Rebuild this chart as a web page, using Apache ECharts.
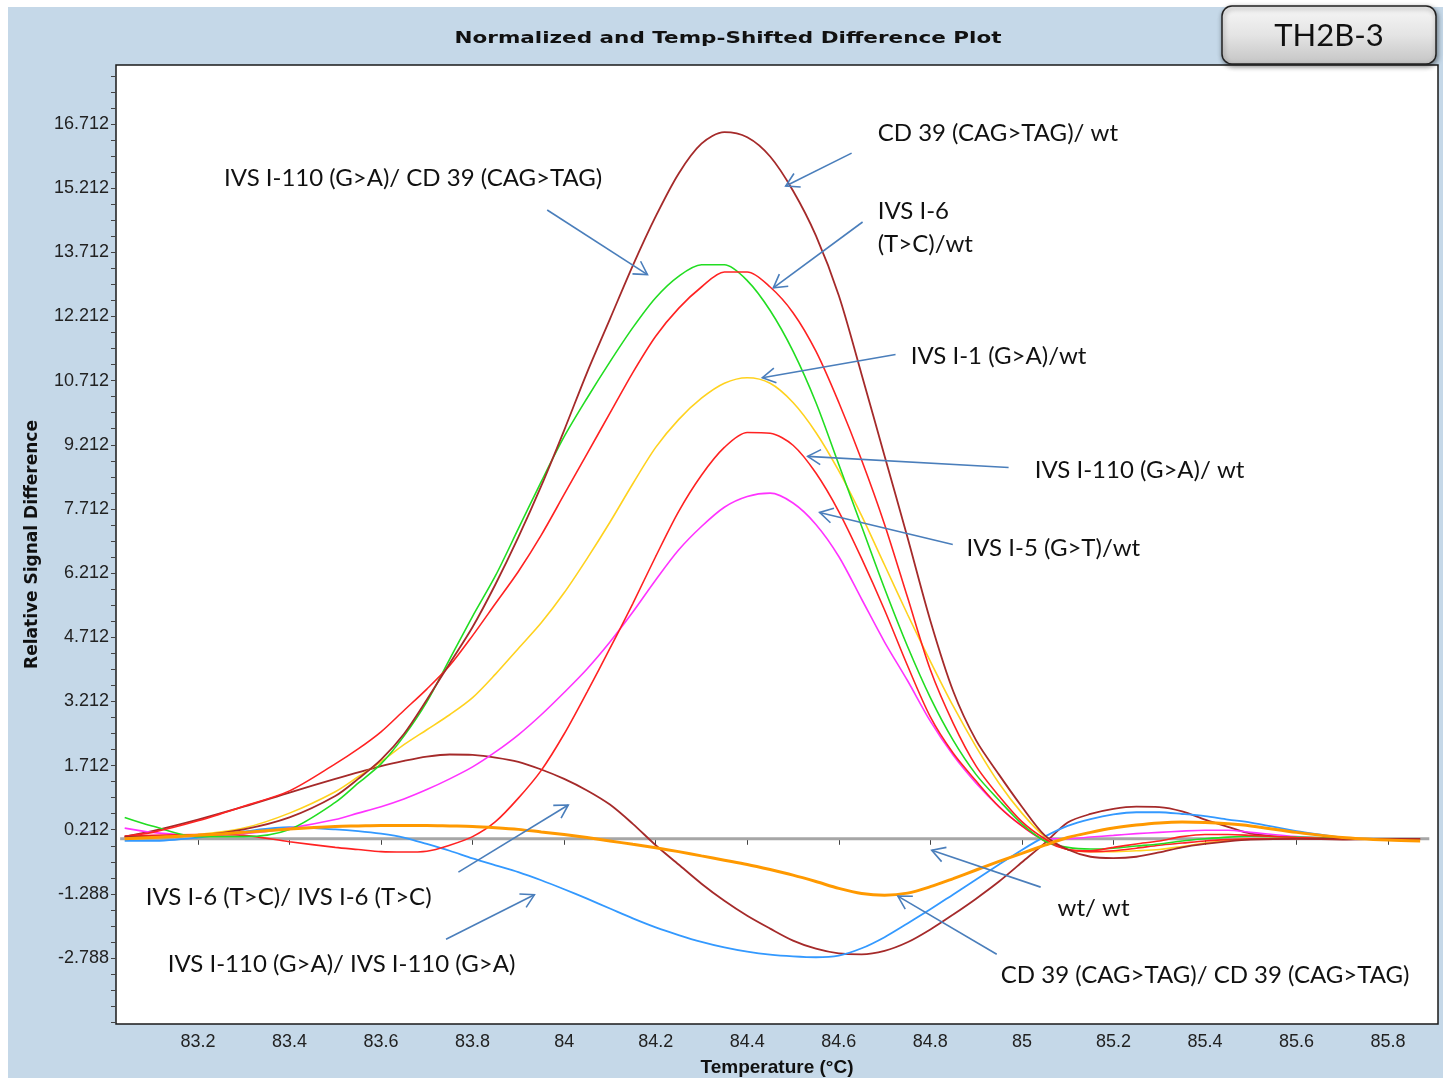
<!DOCTYPE html>
<html>
<head>
<meta charset="utf-8">
<script src="https://cdn.jsdelivr.net/npm/echarts@6/dist/echarts.min.js"></script>
<style>
html,body{margin:0;padding:0;background:#ffffff;}
#chart{width:1448px;height:1078px;}
</style>
</head>
<body>
<div id="chart"></div>
<script>
// ---------------- DATA ----------------
const temps = [83.04, 83.1, 83.2, 83.3, 83.4, 83.5, 83.55, 83.6, 83.65, 83.7,
  83.75, 83.8, 83.85, 83.9, 83.95, 84.0, 84.05, 84.1, 84.15, 84.2,
  84.25, 84.3, 84.35, 84.4, 84.45, 84.5, 84.55, 84.6, 84.65, 84.7,
  84.75, 84.8, 84.85, 84.9, 84.95, 85.0, 85.05, 85.1, 85.15, 85.2,
  85.25, 85.3, 85.35, 85.4, 85.45, 85.5, 85.6, 85.7, 85.8, 85.87];

// CD 39 (CAG>TAG)/ wt  (dark red, tallest)
const cd39Wt = [0.05, 0.05, 0.08, 0.22, 0.5, 1.0, 1.4, 1.85, 2.45, 3.25,
  4.1, 4.95, 5.95, 7.05, 8.25, 9.55, 10.9, 12.15, 13.4, 14.55,
  15.55, 16.25, 16.52, 16.4, 15.95, 15.15, 14.1, 12.7, 10.85, 8.95,
  7.05, 5.1, 3.45, 2.3, 1.5, 0.75, 0.08, -0.25, -0.42, -0.45,
  -0.42, -0.32, -0.2, -0.12, -0.06, -0.02, 0.0, 0.0, 0.0, 0.0];

// IVS I-110 (G>A)/ CD 39 (CAG>TAG)  (green)
const ivs110Cd39 = [0.5, 0.3, 0.05, 0.05, 0.22, 0.85, 1.3, 1.75, 2.4, 3.2,
  4.2, 5.2, 6.15, 7.25, 8.35, 9.4, 10.3, 11.15, 11.95, 12.65,
  13.15, 13.42, 13.42, 13.05, 12.35, 11.4, 10.2, 8.75, 7.3, 5.85,
  4.5, 3.3, 2.3, 1.5, 0.9, 0.35, -0.05, -0.2, -0.24, -0.22,
  -0.17, -0.12, -0.05, 0.0, 0.04, 0.06, 0.04, 0.02, null, null];

// IVS I-6 (T>C)/wt  (red)
const ivs6Wt = [0.06, 0.15, 0.42, 0.76, 1.12, 1.75, 2.1, 2.5, 3.0, 3.5,
  4.05, 4.75, 5.5, 6.25, 7.1, 8.05, 9.0, 9.95, 10.9, 11.75,
  12.4, 12.9, 13.25, 13.25, 12.9, 12.3, 11.4, 10.2, 8.85, 7.35,
  5.65, 3.95, 2.7, 1.7, 1.0, 0.4, 0.0, -0.25, -0.28, -0.2,
  -0.12, -0.05, 0.05, 0.1, 0.1, 0.08, 0.03, 0.0, null, null];

// IVS I-1 (G>A)/wt  (yellow)
const ivs1Wt = [0.0, 0.02, 0.1, 0.25, 0.6, 1.1, 1.45, 1.8, 2.2, 2.55,
  2.9, 3.3, 3.85, 4.45, 5.05, 5.75, 6.55, 7.4, 8.3, 9.15,
  9.8, 10.3, 10.65, 10.78, 10.65, 10.2, 9.5, 8.6, 7.55, 6.4,
  5.25, 4.15, 3.1, 2.15, 1.3, 0.6, 0.05, -0.25, -0.3, -0.3,
  -0.28, -0.25, -0.18, -0.1, -0.04, 0.0, 0.02, 0.0, null, null];

// IVS I-110 (G>A)/ wt  (red, second)
const ivs110Wt = [0.05, 0.08, 0.1, 0.08, -0.07, -0.2, -0.25, -0.3, -0.31, -0.29,
  -0.15, 0.05, 0.4, 0.95, 1.6, 2.45, 3.43, 4.45, 5.5, 6.6,
  7.65, 8.5, 9.15, 9.5, 9.48, 9.2, 8.55, 7.65, 6.55, 5.35,
  4.05, 2.85, 2.0, 1.35, 0.75, 0.3, -0.05, -0.25, -0.3, -0.28,
  -0.22, -0.15, -0.1, -0.05, -0.02, 0.0, 0.0, 0.0, null, null];

// IVS I-5 (G>T)/wt  (magenta)
const ivs5Wt = [0.25, 0.15, 0.08, 0.12, 0.25, 0.45, 0.6, 0.75, 0.93, 1.15,
  1.4, 1.68, 2.03, 2.43, 2.9, 3.42, 3.97, 4.6, 5.3, 6.05,
  6.75, 7.3, 7.75, 8.0, 8.08, 7.85, 7.35, 6.6, 5.6, 4.6,
  3.7, 2.75, 1.95, 1.3, 0.75, 0.3, 0.0, 0.0, 0.04, 0.08,
  0.12, 0.15, 0.18, 0.2, 0.2, 0.15, 0.05, 0.0, null, null];

// IVS I-6 (T>C)/ IVS I-6 (T>C)  (dark red, hump then dip)
const ivs6Ivs6 = [0.05, 0.18, 0.45, 0.75, 1.08, 1.4, 1.55, 1.7, 1.82, 1.92,
  1.97, 1.96, 1.9, 1.8, 1.62, 1.4, 1.13, 0.8, 0.35, -0.15,
  -0.6, -1.05, -1.45, -1.8, -2.1, -2.38, -2.57, -2.68, -2.7, -2.62,
  -2.42, -2.12, -1.77, -1.4, -1.0, -0.55, -0.1, 0.38, 0.58, 0.7,
  0.75, 0.74, 0.64, 0.45, 0.28, 0.12, 0.02, -0.02, 0.0, 0.0];

// IVS I-110 (G>A)/ IVS I-110 (G>A)  (blue)
const ivs110Ivs110 = [-0.05, -0.05, 0.03, 0.17, 0.27, 0.22, 0.18, 0.12, 0.03, -0.12,
  -0.28, -0.46, -0.62, -0.78, -0.97, -1.18, -1.4, -1.63, -1.86, -2.07,
  -2.25, -2.41, -2.54, -2.64, -2.71, -2.75, -2.77, -2.73, -2.56, -2.3,
  -1.98, -1.65, -1.3, -0.95, -0.6, -0.26, 0.05, 0.3, 0.46, 0.57,
  0.62, 0.62, 0.58, 0.53, 0.45, 0.38, 0.18, 0.03, null, null];

// CD 39 (CAG>TAG)/ CD 39 (CAG>TAG)  (orange)
const cd39Cd39 = [0.0, 0.03, 0.08, 0.15, 0.23, 0.29, 0.3, 0.31, 0.31, 0.31,
  0.3, 0.29, 0.26, 0.22, 0.16, 0.1, 0.03, -0.05, -0.13, -0.21,
  -0.3, -0.4, -0.5, -0.6, -0.72, -0.85, -1.0, -1.16, -1.28, -1.32,
  -1.27, -1.12, -0.93, -0.73, -0.53, -0.34, -0.15, 0.03, 0.15, 0.25,
  0.32, 0.37, 0.39, 0.38, 0.35, 0.3, 0.15, 0.03, -0.03, -0.05];

// wt/ wt  (grey baseline)
const wtTemps = [83.03, 85.89];
const wtWt = [0.0, 0.0];

// Axis tick labels
const yTickLabels = [-2.788, -1.288, 0.212, 1.712, 3.212, 4.712, 6.212, 7.712,
  9.212, 10.712, 12.212, 13.712, 15.212, 16.712];
const xTickLabels = [83.2, 83.4, 83.6, 83.8, 84.0, 84.2, 84.4, 84.6, 84.8,
  85.0, 85.2, 85.4, 85.6, 85.8];

// Annotations (data coordinates: text anchor, arrow start, arrow tip)
const annotations = [
  {lines: ['CD 39 (CAG>TAG)/ wt'], at: [84.685, 16.5], from: [84.628, 16.03], to: [84.484, 15.26]},
  {lines: ['IVS I-110 (G>A)/ CD 39 (CAG>TAG)'], at: [83.257, 15.45], from: [83.963, 14.70], to: [84.182, 13.19]},
  {lines: ['IVS I-6', '(T>C)/wt'], at: [84.685, 14.66], from: [84.652, 14.42], to: [84.457, 12.88]},
  {lines: ['IVS I-1 (G>A)/wt'], at: [84.757, 11.27], from: [84.724, 11.32], to: [84.433, 10.78]},
  {lines: ['IVS I-110 (G>A)/ wt'], at: [85.028, 8.61], from: [84.971, 8.68], to: [84.532, 8.94]},
  {lines: ['IVS I-5 (G>T)/wt'], at: [84.879, 6.79], from: [84.849, 6.88], to: [84.558, 7.63]},
  {lines: ['IVS I-6 (T>C)/ IVS I-6 (T>C)'], at: [83.086, -1.36], from: [83.769, -0.78], to: [84.009, 0.79]},
  {lines: ['IVS I-110 (G>A)/ IVS I-110 (G>A)'], at: [83.134, -2.93], from: [83.742, -2.35], to: [83.935, -1.31]},
  {lines: ['wt/ wt'], at: [85.078, -1.62], from: [85.041, -1.13], to: [84.803, -0.27]},
  {lines: ['CD 39 (CAG>TAG)/ CD 39 (CAG>TAG)'], at: [84.954, -3.19], from: [84.945, -2.70], to: [84.729, -1.34]}
];

// ---------------- CHART ----------------
const X_MIN = 83.021, X_MAX = 85.909, Y_MIN = -4.33, Y_MAX = 18.09;
const sans = "'Liberation Sans', Arial, sans-serif";

function pairs(xs, ys) { return xs.map((x, i) => [x, ys[i]]); }

// minor + major y ticks (every quarter of the 1.5 step)
const yTicks = [];
for (let k = -8; k <= 60; k++) {
  const v = +(yTickLabels[0] + k * 0.375).toFixed(3);
  if (v > Y_MIN && v < Y_MAX) yTicks.push(v);
}

const seriesDefs = [
  {name: 'wt/ wt', x: wtTemps, y: wtWt, color: '#a6a6a6', width: 3},
  {name: 'IVS I-6 (T>C)/ IVS I-6 (T>C)', x: temps, y: ivs6Ivs6, color: '#a52a2a', width: 1.8},
  {name: 'IVS I-110 (G>A)/ IVS I-110 (G>A)', x: temps, y: ivs110Ivs110, color: '#3399ff', width: 1.8},
  {name: 'IVS I-5 (G>T)/wt', x: temps, y: ivs5Wt, color: '#ff33ff', width: 1.6},
  {name: 'IVS I-1 (G>A)/wt', x: temps, y: ivs1Wt, color: '#ffd21f', width: 1.6},
  {name: 'IVS I-110 (G>A)/ wt', x: temps, y: ivs110Wt, color: '#ff2222', width: 1.6},
  {name: 'IVS I-110 (G>A)/ CD 39 (CAG>TAG)', x: temps, y: ivs110Cd39, color: '#22dd22', width: 1.6},
  {name: 'IVS I-6 (T>C)/wt', x: temps, y: ivs6Wt, color: '#ff2222', width: 1.6},
  {name: 'CD 39 (CAG>TAG)/ wt', x: temps, y: cd39Wt, color: '#a52a2a', width: 1.8},
  {name: 'CD 39 (CAG>TAG)/ CD 39 (CAG>TAG)', x: temps, y: cd39Cd39, color: '#ff9900', width: 3}
];

const chart = echarts.init(document.getElementById('chart'), null, {renderer: 'canvas'});

chart.setOption({
  animation: false,
  backgroundColor: '#c5d8e8',
  grid: {
    left: 116, right: 10, top: 65, bottom: 54,
    outerBoundsMode: 'none', containLabel: false,
    show: true, backgroundColor: '#ffffff', borderColor: '#1a1a1a', borderWidth: 1.5
  },
  xAxis: {
    type: 'value', min: X_MIN, max: X_MAX,
    axisLine: {show: false},
    axisTick: {show: true, customValues: xTickLabels, length: 6, lineStyle: {color: '#444'}},
    axisLabel: {
      customValues: xTickLabels, margin: 9, fontSize: 18, color: '#222', fontFamily: sans,
      formatter: v => String(+(+v).toFixed(1))
    },
    splitLine: {show: false},
    name: 'Temperature (°C)', nameLocation: 'middle', nameGap: 34,
    nameTextStyle: {fontWeight: 'bold', fontSize: 19, color: '#111', fontFamily: sans}
  },
  yAxis: {
    type: 'value', min: Y_MIN, max: Y_MAX,
    axisLine: {show: false},
    axisTick: {show: true, customValues: yTicks, length: 5, lineStyle: {color: '#444'}},
    axisLabel: {
      customValues: yTickLabels, margin: 7, fontSize: 18, color: '#222', fontFamily: sans,
      formatter: v => (+v).toFixed(3)
    },
    splitLine: {show: false},
    name: 'Relative Signal Difference', nameLocation: 'middle', nameGap: 75,
    nameTextStyle: {fontWeight: 'bold', fontSize: 17, color: '#111', fontFamily: "'DejaVu Sans', Arial, sans-serif"}
  },
  series: seriesDefs.map(s => ({
    type: 'line', name: s.name, data: pairs(s.x, s.y),
    showSymbol: false, smooth: 0.3, connectNulls: false,
    lineStyle: {color: s.color, width: s.width},
    itemStyle: {color: s.color},
    emphasis: {disabled: true}, silent: true
  }))
});

function measure(text, font) {
  const ctx = document.createElement('canvas').getContext('2d');
  ctx.font = font;
  return ctx.measureText(text).width;
}

function buildGraphics() {
  const g = [];
  // white page margins
  g.push({type: 'rect', shape: {x: 0, y: 0, width: 1448, height: 7}, style: {fill: '#ffffff'}, silent: true, z: -10});
  g.push({type: 'rect', shape: {x: 0, y: 0, width: 8, height: 1078}, style: {fill: '#ffffff'}, silent: true, z: -10});
  g.push({type: 'rect', shape: {x: 1443, y: 0, width: 5, height: 1078}, style: {fill: '#ffffff'}, silent: true, z: -10});
  // title (stretched horizontally like the original wide-spaced caption)
  const titleText = 'Normalized and Temp-Shifted Difference Plot';
  const titleFont = "bold 15px 'DejaVu Sans', Arial, sans-serif";
  const tw = measure(titleText, titleFont) || 440;
  g.push({
    type: 'text', x: 728, y: 39, silent: true, scaleX: 547 / tw, originX: 0, originY: 0,
    style: {text: titleText, fill: '#111', font: titleFont, align: 'center', verticalAlign: 'middle'}
  });
  // TH2B-3 button
  g.push({
    type: 'rect', shape: {x: 1222, y: 6, width: 214, height: 58, r: 10}, silent: true, z: 5,
    style: {
      fill: new echarts.graphic.LinearGradient(0, 0, 0, 1, [
        {offset: 0, color: '#f7f7f7'}, {offset: 0.5, color: '#e4e4e4'}, {offset: 1, color: '#c4c4c4'}]),
      stroke: '#222', lineWidth: 1.5,
      shadowBlur: 5, shadowColor: 'rgba(0,0,0,0.45)', shadowOffsetX: 1, shadowOffsetY: 2
    }
  });
  g.push({
    type: 'text', x: 1329, y: 36, silent: true, z: 6,
    style: {text: 'TH2B-3', fill: '#111', font: "31px Lato, 'Noto Sans', sans-serif",
      align: 'center', verticalAlign: 'middle'}
  });
  // annotations
  const toPx = p => chart.convertToPixel({gridIndex: 0}, p);
  annotations.forEach(a => {
    const t = toPx(a.at);
    a.lines.forEach((line, i) => {
      g.push({
        type: 'text', x: t[0], y: t[1] + i * 33, silent: true, z: 10,
        style: {text: line, fill: '#111', font: "24px Lato, 'Noto Sans', sans-serif",
          align: 'left', verticalAlign: 'middle'}
      });
    });
    const p0 = toPx(a.from), p1 = toPx(a.to);
    g.push({
      type: 'line', silent: true, z: 10,
      shape: {x1: p0[0], y1: p0[1], x2: p1[0], y2: p1[1]},
      style: {stroke: '#4a7ebb', lineWidth: 1.6}
    });
    const ang = Math.atan2(p0[1] - p1[1], p0[0] - p1[0]);
    const L = 15, th = Math.PI / 6;
    g.push({
      type: 'polyline', silent: true, z: 10,
      shape: {points: [
        [p1[0] + L * Math.cos(ang + th), p1[1] + L * Math.sin(ang + th)],
        [p1[0], p1[1]],
        [p1[0] + L * Math.cos(ang - th), p1[1] + L * Math.sin(ang - th)]
      ]},
      style: {stroke: '#4a7ebb', lineWidth: 1.6, fill: null}
    });
  });
  return g;
}

chart.setOption({graphic: buildGraphics()});
</script>
</body>
</html>
